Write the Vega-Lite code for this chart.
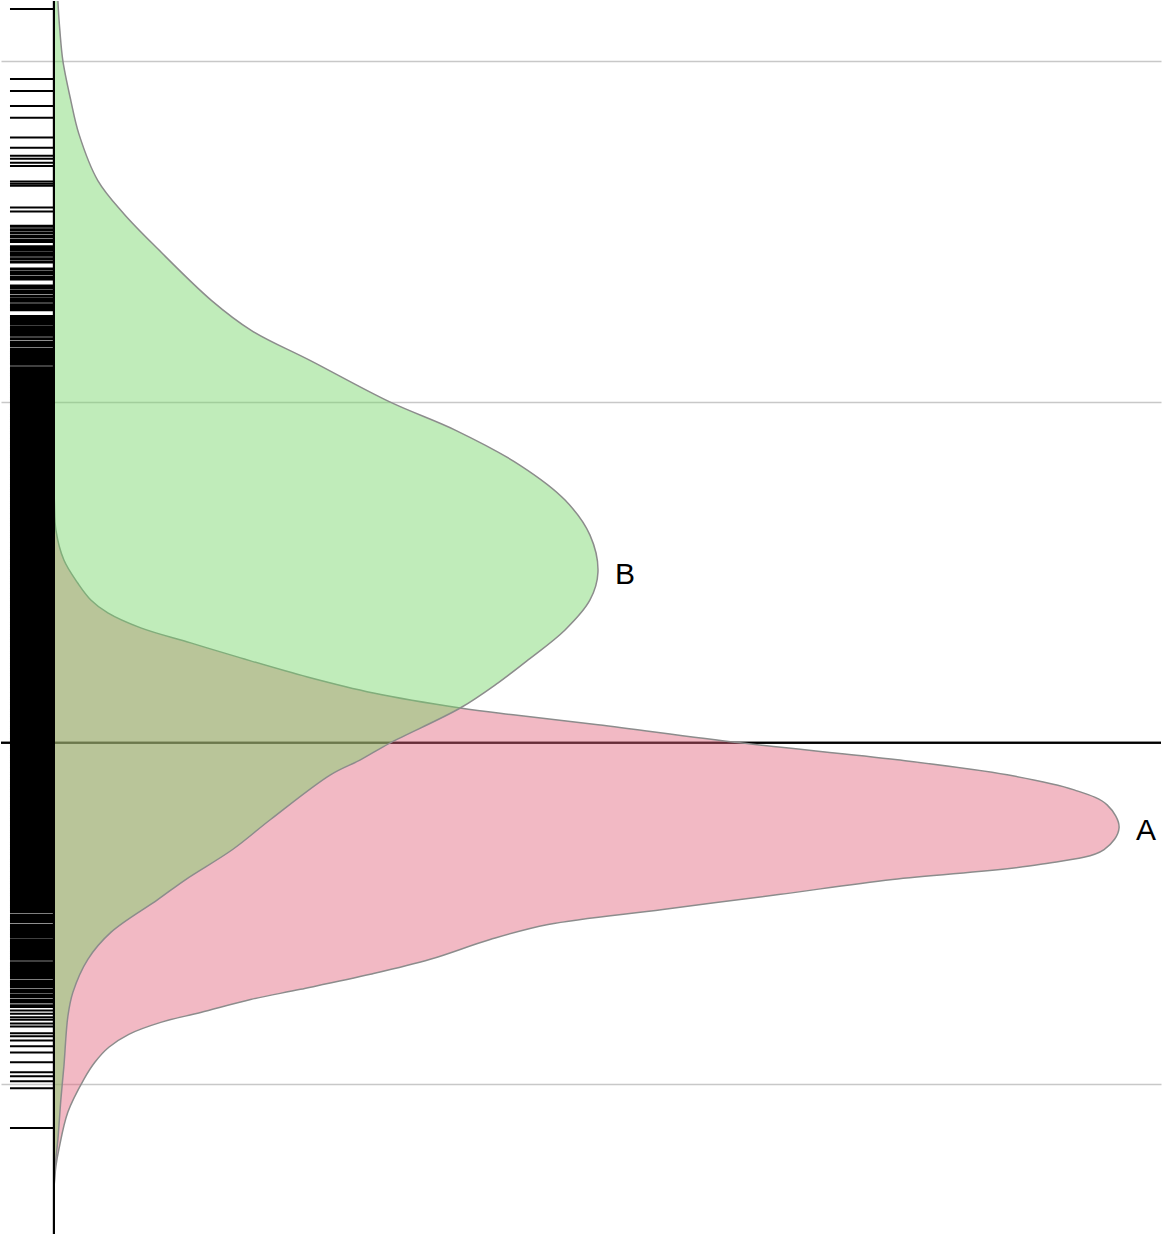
{
  "$schema": "https://vega.github.io/schema/vega-lite/v6.json",
  "width": 1162,
  "height": 1235,
  "autosize": {"type": "fit", "contains": "padding"},
  "padding": 0,
  "background": "white",
  "config": {"view": {"stroke": null}},
  "datasets": {
    "rug": [
      {"v":2.152},{"v":1.947},{"v":1.912},{"v":1.868},{"v":1.833},{"v":1.775},{"v":1.745},{"v":1.722},{"v":1.713},{"v":1.701},{"v":1.692},{"v":1.646},{"v":1.640},{"v":1.634},{"v":1.570},{"v":1.558},
      {"v":1.515},{"v":1.505},{"v":1.495},{"v":1.485},{"v":1.475},{"v":1.47},{"v":1.455},{"v":1.45},{"v":1.445},{"v":1.435},{"v":1.43},{"v":1.42},{"v":1.41},{"v":1.39},{"v":1.38},{"v":1.375},{"v":1.365},{"v":1.36},{"v":1.34},{"v":1.335},{"v":1.325},{"v":1.32},{"v":1.31},{"v":1.3},{"v":1.295},{"v":1.285},{"v":1.28},{"v":1.275},{"v":1.27},{"v":1.25},{"v":1.245},{"v":1.24},{"v":1.235},{"v":1.23},{"v":1.22},{"v":1.215},{"v":1.21},{"v":1.205},{"v":1.2},{"v":1.195},{"v":1.185},{"v":1.175},{"v":1.17},{"v":1.165},{"v":1.155},{"v":1.15},{"v":1.145},{"v":1.14},{"v":1.135},{"v":1.13},{"v":1.125},{"v":1.12},{"v":1.115},{"v":1.11},{"v":1.1},
      {"v":1.095},{"v":1.09},{"v":1.085},{"v":1.08},{"v":1.075},{"v":1.07},{"v":1.065},{"v":1.06},{"v":1.055},{"v":1.05},{"v":1.045},{"v":1.04},{"v":1.035},{"v":1.03},{"v":1.025},{"v":1.02},{"v":1.015},{"v":1.01},{"v":1.005},{"v":1.0},
      {"v":0.995},{"v":0.99},{"v":0.985},{"v":0.98},{"v":0.975},{"v":0.97},{"v":0.965},{"v":0.96},{"v":0.955},{"v":0.95},
      {"v":0.945},{"v":0.94},{"v":0.935},{"v":0.93},{"v":0.925},{"v":0.92},{"v":0.915},{"v":0.91},{"v":0.905},{"v":0.9},
      {"v":0.895},{"v":0.89},{"v":0.885},{"v":0.88},{"v":0.875},{"v":0.87},{"v":0.865},{"v":0.86},{"v":0.855},{"v":0.85},
      {"v":0.845},{"v":0.84},{"v":0.835},{"v":0.83},{"v":0.825},{"v":0.82},{"v":0.815},{"v":0.81},{"v":0.805},{"v":0.8},
      {"v":0.795},{"v":0.79},{"v":0.785},{"v":0.78},{"v":0.775},{"v":0.77},{"v":0.765},{"v":0.76},{"v":0.755},{"v":0.75},
      {"v":0.745},{"v":0.74},{"v":0.735},{"v":0.73},{"v":0.725},{"v":0.72},{"v":0.715},{"v":0.71},{"v":0.705},{"v":0.7},
      {"v":0.695},{"v":0.69},{"v":0.685},{"v":0.68},{"v":0.675},{"v":0.67},{"v":0.665},{"v":0.66},{"v":0.655},{"v":0.65},
      {"v":0.645},{"v":0.64},{"v":0.635},{"v":0.63},{"v":0.625},{"v":0.62},{"v":0.615},{"v":0.61},{"v":0.605},{"v":0.6},
      {"v":0.595},{"v":0.59},{"v":0.585},{"v":0.58},{"v":0.575},{"v":0.57},{"v":0.565},{"v":0.56},{"v":0.555},{"v":0.55},
      {"v":0.545},{"v":0.54},{"v":0.535},{"v":0.53},{"v":0.525},{"v":0.52},{"v":0.515},{"v":0.51},{"v":0.505},{"v":0.5},
      {"v":0.495},{"v":0.49},{"v":0.485},{"v":0.48},{"v":0.475},{"v":0.47},{"v":0.465},{"v":0.46},{"v":0.455},{"v":0.45},
      {"v":0.445},{"v":0.44},{"v":0.435},{"v":0.43},{"v":0.425},{"v":0.42},{"v":0.415},{"v":0.41},{"v":0.405},{"v":0.4},
      {"v":0.395},{"v":0.39},{"v":0.385},{"v":0.38},{"v":0.375},{"v":0.37},{"v":0.365},{"v":0.36},{"v":0.355},{"v":0.35},
      {"v":0.345},{"v":0.34},{"v":0.335},{"v":0.33},{"v":0.325},{"v":0.32},{"v":0.315},{"v":0.31},{"v":0.305},{"v":0.3},
      {"v":0.295},{"v":0.29},{"v":0.285},{"v":0.28},{"v":0.275},{"v":0.27},{"v":0.265},{"v":0.26},{"v":0.255},{"v":0.25},
      {"v":0.245},{"v":0.24},{"v":0.235},{"v":0.23},{"v":0.225},{"v":0.22},{"v":0.215},{"v":0.21},{"v":0.205},{"v":0.2},
      {"v":0.195},{"v":0.19},{"v":0.185},{"v":0.18},{"v":0.175},{"v":0.17},{"v":0.165},{"v":0.16},{"v":0.155},{"v":0.15},
      {"v":0.145},{"v":0.14},{"v":0.135},{"v":0.13},{"v":0.125},{"v":0.12},{"v":0.115},{"v":0.11},{"v":0.105},{"v":0.1},
      {"v":0.095},{"v":0.09},{"v":0.085},{"v":0.08},{"v":0.075},{"v":0.07},{"v":0.065},{"v":0.06},{"v":0.055},{"v":0.05},
      {"v":0.045},{"v":0.04},{"v":0.035},{"v":0.03},{"v":0.025},{"v":0.02},{"v":0.015},{"v":0.01},{"v":0.005},{"v":0.0},
      {"v":-0.005},{"v":-0.01},{"v":-0.015},{"v":-0.02},{"v":-0.025},{"v":-0.03},{"v":-0.035},{"v":-0.04},{"v":-0.045},{"v":-0.05},
      {"v":-0.055},{"v":-0.06},{"v":-0.065},{"v":-0.07},{"v":-0.075},{"v":-0.08},{"v":-0.085},{"v":-0.09},{"v":-0.095},{"v":-0.1},
      {"v":-0.105},{"v":-0.11},{"v":-0.115},{"v":-0.12},{"v":-0.125},{"v":-0.13},{"v":-0.135},{"v":-0.14},{"v":-0.145},{"v":-0.15},
      {"v":-0.155},{"v":-0.16},{"v":-0.165},{"v":-0.17},{"v":-0.175},{"v":-0.18},{"v":-0.185},{"v":-0.19},{"v":-0.195},{"v":-0.2},
      {"v":-0.205},{"v":-0.21},{"v":-0.215},{"v":-0.22},{"v":-0.225},{"v":-0.23},{"v":-0.235},{"v":-0.24},{"v":-0.245},{"v":-0.25},
      {"v":-0.255},{"v":-0.26},{"v":-0.265},{"v":-0.27},{"v":-0.275},{"v":-0.28},{"v":-0.285},{"v":-0.29},{"v":-0.295},{"v":-0.3},
      {"v":-0.305},{"v":-0.31},{"v":-0.315},{"v":-0.32},{"v":-0.325},{"v":-0.33},{"v":-0.335},{"v":-0.34},{"v":-0.345},{"v":-0.35},
      {"v":-0.355},{"v":-0.36},{"v":-0.365},{"v":-0.37},{"v":-0.375},{"v":-0.38},{"v":-0.385},{"v":-0.39},{"v":-0.395},{"v":-0.4},
      {"v":-0.405},{"v":-0.41},{"v":-0.415},{"v":-0.42},{"v":-0.425},{"v":-0.43},{"v":-0.435},{"v":-0.44},
      {"v":-0.445},{"v":-0.45},{"v":-0.455},{"v":-0.46},{"v":-0.465},{"v":-0.47},{"v":-0.475},{"v":-0.48},{"v":-0.485},{"v":-0.49},{"v":-0.495},
      {"v":-0.505},{"v":-0.51},{"v":-0.515},{"v":-0.52},{"v":-0.525},{"v":-0.535},{"v":-0.54},{"v":-0.545},{"v":-0.55},{"v":-0.555},{"v":-0.56},{"v":-0.565},{"v":-0.57},
      {"v":-0.58},{"v":-0.585},{"v":-0.59},{"v":-0.595},{"v":-0.6},{"v":-0.605},{"v":-0.61},{"v":-0.615},{"v":-0.62},{"v":-0.625},{"v":-0.63},{"v":-0.635},
      {"v":-0.645},{"v":-0.65},{"v":-0.655},{"v":-0.66},{"v":-0.665},{"v":-0.67},{"v":-0.675},{"v":-0.68},{"v":-0.685},{"v":-0.69},
      {"v":-0.7},{"v":-0.705},{"v":-0.71},{"v":-0.715},{"v":-0.725},{"v":-0.73},{"v":-0.74},{"v":-0.745},{"v":-0.755},{"v":-0.76},{"v":-0.77},{"v":-0.775},{"v":-0.785},{"v":-0.795},{"v":-0.805},{"v":-0.812},
      {"v":-0.823},{"v":-0.832},{"v":-0.852},{"v":-0.861},{"v":-0.873},{"v":-0.890},{"v":-0.908},{"v":-0.937},{"v":-0.966},{"v":-0.978},{"v":-0.993},{"v":-1.013},{"v":-1.130}
    ],
    "dens": [
      {"g":"A","y":0.80,"d":0.0},
      {"g":"A","y":0.70,"d":0.001},
      {"g":"A","y":0.624,"d":0.004},
      {"g":"A","y":0.536,"d":0.02},
      {"g":"A","y":0.468,"d":0.048},
      {"g":"A","y":0.419,"d":0.074},
      {"g":"A","y":0.381,"d":0.108},
      {"g":"A","y":0.337,"d":0.174},
      {"g":"A","y":0.293,"d":0.274},
      {"g":"A","y":0.249,"d":0.374},
      {"g":"A","y":0.193,"d":0.508},
      {"g":"A","y":0.146,"d":0.64},
      {"g":"A","y":0.102,"d":0.814},
      {"g":"A","y":0.082,"d":0.92},
      {"g":"A","y":0.053,"d":1.09},
      {"g":"A","y":0.0,"d":1.374},
      {"g":"A","y":-0.05,"d":1.69},
      {"g":"A","y":-0.094,"d":1.91},
      {"g":"A","y":-0.138,"d":2.044},
      {"g":"A","y":-0.182,"d":2.11},
      {"g":"A","y":-0.249,"d":2.134},
      {"g":"A","y":-0.313,"d":2.104},
      {"g":"A","y":-0.357,"d":1.974},
      {"g":"A","y":-0.401,"d":1.68},
      {"g":"A","y":-0.445,"d":1.452},
      {"g":"A","y":-0.489,"d":1.22},
      {"g":"A","y":-0.533,"d":0.99},
      {"g":"A","y":-0.577,"d":0.874},
      {"g":"A","y":-0.635,"d":0.754},
      {"g":"A","y":-0.679,"d":0.634},
      {"g":"A","y":-0.723,"d":0.494},
      {"g":"A","y":-0.753,"d":0.394},
      {"g":"A","y":-0.791,"d":0.294},
      {"g":"A","y":-0.82,"d":0.214},
      {"g":"A","y":-0.855,"d":0.15},
      {"g":"A","y":-0.893,"d":0.11},
      {"g":"A","y":-0.937,"d":0.082},
      {"g":"A","y":-0.987,"d":0.06},
      {"g":"A","y":-1.083,"d":0.028},
      {"g":"A","y":-1.192,"d":0.01},
      {"g":"A","y":-1.242,"d":0.004},
      {"g":"A","y":-1.309,"d":0.0},
      {"g":"B","y":2.30,"d":0.006},
      {"g":"B","y":2.176,"d":0.008},
      {"g":"B","y":2.088,"d":0.012},
      {"g":"B","y":2.0,"d":0.018},
      {"g":"B","y":1.883,"d":0.034},
      {"g":"B","y":1.786,"d":0.05},
      {"g":"B","y":1.649,"d":0.088},
      {"g":"B","y":1.552,"d":0.14},
      {"g":"B","y":1.449,"d":0.208},
      {"g":"B","y":1.297,"d":0.316},
      {"g":"B","y":1.209,"d":0.396},
      {"g":"B","y":1.121,"d":0.514},
      {"g":"B","y":0.999,"d":0.674},
      {"g":"B","y":0.917,"d":0.804},
      {"g":"B","y":0.814,"d":0.934},
      {"g":"B","y":0.712,"d":1.024},
      {"g":"B","y":0.609,"d":1.074},
      {"g":"B","y":0.501,"d":1.09},
      {"g":"B","y":0.419,"d":1.074},
      {"g":"B","y":0.331,"d":1.024},
      {"g":"B","y":0.243,"d":0.95},
      {"g":"B","y":0.176,"d":0.89},
      {"g":"B","y":0.102,"d":0.814},
      {"g":"B","y":0.0,"d":0.674},
      {"g":"B","y":-0.05,"d":0.614},
      {"g":"B","y":-0.094,"d":0.554},
      {"g":"B","y":-0.225,"d":0.434},
      {"g":"B","y":-0.313,"d":0.358},
      {"g":"B","y":-0.401,"d":0.264},
      {"g":"B","y":-0.46,"d":0.208},
      {"g":"B","y":-0.556,"d":0.114},
      {"g":"B","y":-0.635,"d":0.068},
      {"g":"B","y":-0.732,"d":0.038},
      {"g":"B","y":-0.802,"d":0.028},
      {"g":"B","y":-0.949,"d":0.02},
      {"g":"B","y":-1.045,"d":0.014},
      {"g":"B","y":-1.163,"d":0.008},
      {"g":"B","y":-1.25,"d":0.002},
      {"g":"B","y":-1.338,"d":0.0}
    ],
    "peaks": [
      {"g":"A","y":-0.249,"d":2.134},
      {"g":"B","y":0.501,"d":1.09}
    ]
  },
  "layer": [
    {
      "data": {"name": "peaks"},
      "mark": {"type": "rule", "color": "black", "strokeWidth": 2},
      "encoding": {
        "y": {"datum": 0, "type": "quantitative",
              "scale": {"domain": [-1.4407, 2.1757], "nice": false, "zero": false},
              "axis": {"values": [-1, 1, 2], "grid": true, "gridColor": "#c8c8c8", "gridWidth": 1.5, "labels": false, "ticks": false, "domain": false, "title": null}}
      }
    },
    {
      "data": {"name": "rug"},
      "mark": {"type": "rule", "color": "black"},
      "encoding": {
        "y": {"field": "v", "type": "quantitative",
              "scale": {"domain": [-1.4407, 2.1757], "nice": false, "zero": false},
              "axis": {"values": [-1, 1, 2], "grid": true, "gridColor": "#c8c8c8", "gridWidth": 1.5, "labels": false, "ticks": false, "domain": false, "title": null}},
        "x": {"datum": -0.088, "type": "quantitative",
              "scale": {"domain": [-0.106, 2.218], "nice": false, "zero": false}, "axis": null},
        "x2": {"datum": 0},
        "strokeWidth": {"condition": {"test": "datum.v < 1.52 && datum.v > -0.765", "value": 3}, "value": 2}
      }
    },
    {
      "data": {"name": "dens"},
      "transform": [{"filter": "datum.g == 'A'"}],
      "mark": {"type": "area", "orient": "horizontal", "interpolate": "catmull-rom", "fill": "#E2637C", "fillOpacity": 0.45, "stroke": "#8c8c8c", "strokeWidth": 1.5, "clip": true},
      "encoding": {
        "y": {"field": "y", "type": "quantitative",
              "scale": {"domain": [-1.4407, 2.1757], "nice": false, "zero": false},
              "axis": {"values": [-1, 1, 2], "grid": true, "gridColor": "#c8c8c8", "gridWidth": 1.5, "labels": false, "ticks": false, "domain": false, "title": null}},
        "x": {"field": "d", "type": "quantitative",
              "scale": {"domain": [-0.106, 2.218], "nice": false, "zero": false}, "axis": null}
      }
    },
    {
      "data": {"name": "dens"},
      "transform": [{"filter": "datum.g == 'B'"}],
      "mark": {"type": "area", "orient": "horizontal", "interpolate": "catmull-rom", "fill": "#73D566", "fillOpacity": 0.45, "stroke": "#8c8c8c", "strokeWidth": 1.5, "clip": true},
      "encoding": {
        "y": {"field": "y", "type": "quantitative",
              "scale": {"domain": [-1.4407, 2.1757], "nice": false, "zero": false},
              "axis": {"values": [-1, 1, 2], "grid": true, "gridColor": "#c8c8c8", "gridWidth": 1.5, "labels": false, "ticks": false, "domain": false, "title": null}},
        "x": {"field": "d", "type": "quantitative",
              "scale": {"domain": [-0.106, 2.218], "nice": false, "zero": false}, "axis": null}
      }
    },
    {
      "data": {"name": "peaks"},
      "mark": {"type": "rule", "color": "black", "strokeWidth": 2},
      "encoding": {
        "x": {"datum": 0, "type": "quantitative",
              "scale": {"domain": [-0.106, 2.218], "nice": false, "zero": false}, "axis": null}
      }
    },
    {
      "data": {"name": "peaks"},
      "mark": {"type": "text", "align": "left", "baseline": "middle", "dx": 17, "dy": 3, "fontSize": 30, "font": "Liberation Sans", "color": "black"},
      "encoding": {
        "y": {"field": "y", "type": "quantitative",
              "scale": {"domain": [-1.4407, 2.1757], "nice": false, "zero": false},
              "axis": {"values": [-1, 1, 2], "grid": true, "gridColor": "#c8c8c8", "gridWidth": 1.5, "labels": false, "ticks": false, "domain": false, "title": null}},
        "x": {"field": "d", "type": "quantitative",
              "scale": {"domain": [-0.106, 2.218], "nice": false, "zero": false}, "axis": null},
        "text": {"field": "g"}
      }
    }
  ]
}
